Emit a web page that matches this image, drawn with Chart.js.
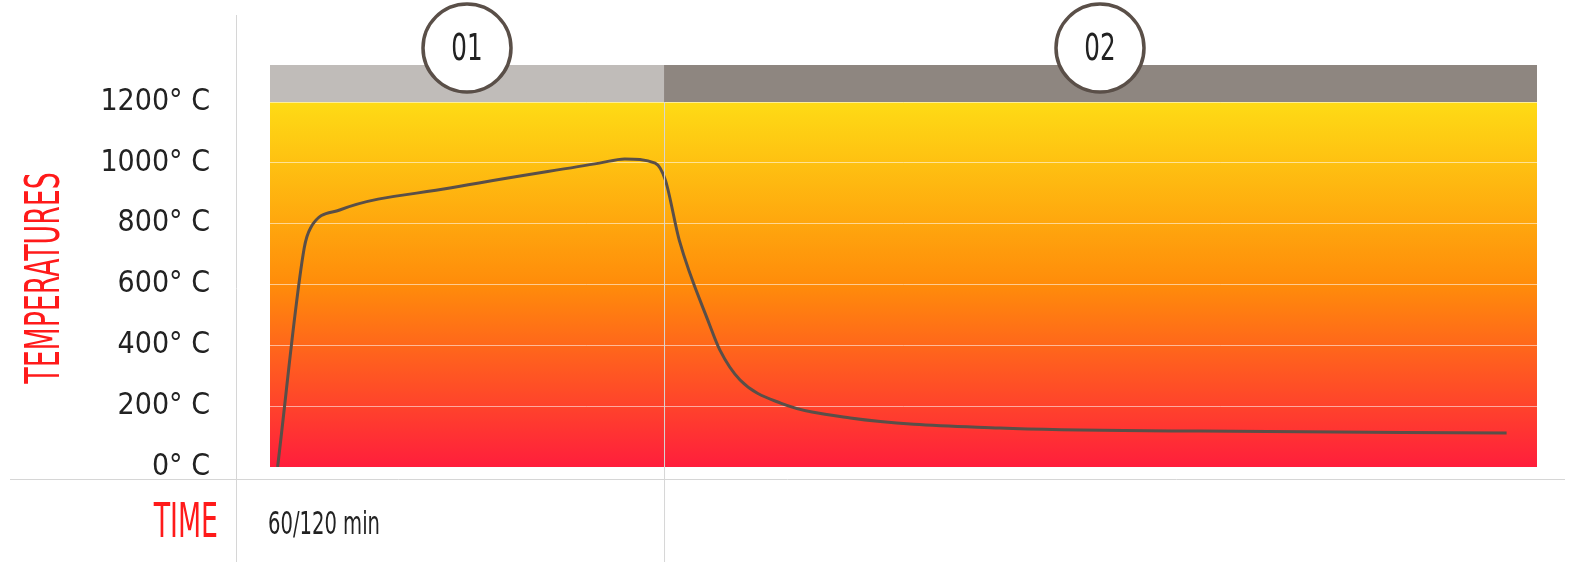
<!DOCTYPE html>
<html><head><meta charset="utf-8">
<script src="https://cdn.jsdelivr.net/npm/chart.js@4"></script>
<style>html,body{margin:0;padding:0;background:#fff}#wrap{width:1588px;height:574px}</style>
</head><body><div id="wrap"><canvas id="c"></canvas></div>
<script>
// time axis is arbitrary 0..100 across the plot, phase split at ~31.1
const timePts = [0.6, 2.7, 3.2, 5.5, 14.2, 26.0, 28.0, 30.4, 31.2, 32.3, 34.7, 35.5, 37.1, 40.3, 45.8, 57.6, 73.4, 97.6];
const tempPts = [0, 720, 786, 845, 917, 999, 1013, 999, 944, 746, 467, 385, 286, 210, 161, 128, 118, 112];
const yTicks = [0, 200, 400, 600, 800, 1000, 1200];
const phases = [{label: '01', from: 0, to: 31.1, color: '#c0bcb9'}, {label: '02', from: 31.1, to: 100, color: '#8e8680'}];
const FONT = '"DejaVu Sans Condensed", sans-serif';

const decor = {
    id: 'decor',
    beforeDraw(ch) {
        const ctx = ch.ctx, a = ch.chartArea, x = ch.scales.x;
        const g = ctx.createLinearGradient(0, a.top, 0, a.bottom);
        g.addColorStop(0, '#fedb15');
        g.addColorStop(0.5, '#ff8c0a');
        g.addColorStop(1, '#ff1e3c');
        ctx.fillStyle = g;
        ctx.fillRect(a.left, a.top, a.right - a.left, a.bottom - a.top);
        // frame lines
        ctx.strokeStyle = '#d6d6d6'; ctx.lineWidth = 1;
        ctx.beginPath();
        ctx.moveTo(236.5, 15); ctx.lineTo(236.5, 562);
        ctx.moveTo(10, 479.5); ctx.lineTo(1565, 479.5);
        ctx.stroke();
    },
    afterDraw(ch) {
        const ctx = ch.ctx, a = ch.chartArea, x = ch.scales.x;
        const split = x.getPixelForValue(phases[1].from);
        ctx.strokeStyle = '#d6d6d6'; ctx.lineWidth = 1;
        ctx.beginPath(); ctx.moveTo(split + 0.5, a.top); ctx.lineTo(split + 0.5, 562); ctx.stroke();
        phases.forEach(p => {
            const l = x.getPixelForValue(p.from), r = x.getPixelForValue(p.to);
            ctx.fillStyle = p.color;
            ctx.fillRect(l, 65, r - l, a.top - 65);
        });
        [[467, '01'], [1100, '02']].forEach(([cx, t]) => {
            ctx.beginPath(); ctx.arc(cx, 48, 44, 0, Math.PI * 2);
            ctx.fillStyle = '#fff'; ctx.fill();
            ctx.lineWidth = 3.5; ctx.strokeStyle = '#5a4f48'; ctx.stroke();
            ctx.save(); ctx.translate(cx, 50); ctx.scale(0.72, 1);
            ctx.fillStyle = '#222'; ctx.font = '300 38px ' + FONT;
            ctx.textAlign = 'center'; ctx.textBaseline = 'middle';
            ctx.fillText(t, 0, 0); ctx.restore();
        });
        ctx.save();
        ctx.fillStyle = '#ff1a1a'; ctx.font = '300 48px ' + FONT;
        ctx.textBaseline = 'middle';
        ctx.save(); ctx.translate(218, 525); ctx.scale(0.62, 1); ctx.textAlign = 'right'; ctx.fillText('TIME', 0, 0); ctx.restore();
        ctx.save(); ctx.translate(47, 278); ctx.rotate(-Math.PI / 2); ctx.scale(0.62, 1); ctx.textAlign = 'center'; ctx.fillText('TEMPERATURES', 0, 0); ctx.restore();
        ctx.fillStyle = '#222'; ctx.font = '300 32px ' + FONT;
        ctx.translate(268, 526); ctx.scale(0.68, 1); ctx.textAlign = 'left'; ctx.fillText('60/120 min', 0, 0);
        ctx.restore();
    }
};

new Chart(document.getElementById('c'), {
    type: 'line',
    data: {
        datasets: [{
            data: timePts.map((t, i) => ({x: t, y: tempPts[i]})),
            borderColor: '#5a4f48', borderWidth: 3, pointRadius: 0,
            cubicInterpolationMode: 'monotone', fill: false
        }]
    },
    options: {
        responsive: true, maintainAspectRatio: false, animation: false,
        layout: {padding: {left: 0, top: 102, right: 51, bottom: 107}},
        plugins: {legend: {display: false}, tooltip: {enabled: false}},
        scales: {
            x: {type: 'linear', min: 0, max: 100, display: false},
            y: {
                min: 0, max: 1200,
                afterFit(s) { s.width = 270; },
                afterBuildTicks(s) { s.ticks = yTicks.map(v => ({value: v})); },
                border: {display: false},
                grid: {color: 'rgba(255,255,255,0.55)', tickLength: 0, lineWidth: 1},
                ticks: {
                    padding: 60, color: '#222',
                    font: {family: FONT, size: 30, weight: '300'},
                    callback: v => v + '° C'
                }
            }
        }
    },
    plugins: [decor]
});
</script></body></html>
